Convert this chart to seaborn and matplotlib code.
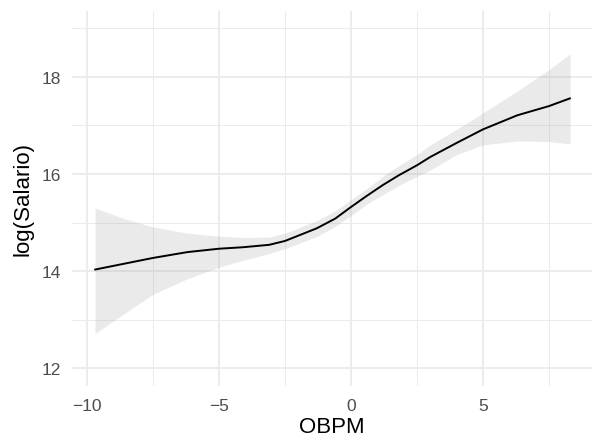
import numpy as np
import pandas as pd
import matplotlib
matplotlib.use("Agg")
import matplotlib.pyplot as plt
import seaborn as sns
from matplotlib.ticker import FixedLocator

# Smoothed fit (x = OBPM, y = log(Salario))
obpm = [-9.7, -8.6, -7.5, -6.2, -5.0, -4.1, -3.1, -2.5, -1.3, -0.6, 0.0, 0.6, 1.2, 1.8, 2.5, 3.0, 4.0, 5.0, 6.3, 7.5, 8.3]
fit = [14.03, 14.15, 14.27, 14.39, 14.46, 14.49, 14.54, 14.62, 14.88, 15.08, 15.32, 15.55, 15.77, 15.97, 16.18, 16.35, 16.64, 16.92, 17.21, 17.40, 17.56]
upper = [15.30, 15.08, 14.91, 14.78, 14.72, 14.69, 14.70, 14.78, 15.04, 15.24, 15.47, 15.70, 15.95, 16.17, 16.40, 16.60, 16.92, 17.26, 17.71, 18.15, 18.48]
lower = [12.71, 13.12, 13.52, 13.84, 14.08, 14.22, 14.36, 14.46, 14.71, 14.92, 15.14, 15.38, 15.57, 15.76, 15.95, 16.08, 16.40, 16.60, 16.68, 16.67, 16.62]

x_ticks = [-10, -5, 0, 5]
x_minor = [-7.5, -2.5, 2.5, 7.5]
y_ticks = [12, 14, 16, 18]
y_minor = [13, 15, 17, 19]

df = pd.DataFrame({"OBPM": obpm, "fit": fit, "upper": upper, "lower": lower})

sns.set_theme(style="white")
plt.rcParams["font.family"] = ["Liberation Sans", "DejaVu Sans"]

fig = plt.figure(figsize=(5.92, 4.39), dpi=100)
ax = fig.add_axes([72 / 592, 1 - 387 / 439, 1 - 72 / 592, (387 - 12) / 439])

ax.fill_between(df["OBPM"], df["lower"], df["upper"], color="#999999", alpha=0.2, linewidth=0, zorder=2)
sns.lineplot(data=df, x="OBPM", y="fit", color="black", linewidth=1.4, ax=ax, zorder=3)

ax.set_xlim(-10.57, 9.13)
ax.set_ylim(11.63, 19.36)
ax.xaxis.set_major_locator(FixedLocator(x_ticks))
ax.yaxis.set_major_locator(FixedLocator(y_ticks))
ax.xaxis.set_minor_locator(FixedLocator(x_minor))
ax.yaxis.set_minor_locator(FixedLocator(y_minor))

ax.grid(which="major", color="#EBEBEB", linewidth=1.3, zorder=0)
ax.grid(which="minor", color="#EBEBEB", linewidth=0.7, zorder=0)
ax.set_axisbelow(True)
for s in ax.spines.values():
    s.set_visible(False)

ax.tick_params(axis="both", which="both", length=0, labelsize=12.5, labelcolor="#4D4D4D")
ax.tick_params(axis="x", pad=9)
ax.tick_params(axis="y", pad=8)

ax.set_xlabel("OBPM", fontsize=16, color="black", labelpad=2)
ax.set_ylabel("log(Salario)", fontsize=16, color="black", labelpad=6)

fig.savefig("out.png", dpi=100, facecolor="white")
